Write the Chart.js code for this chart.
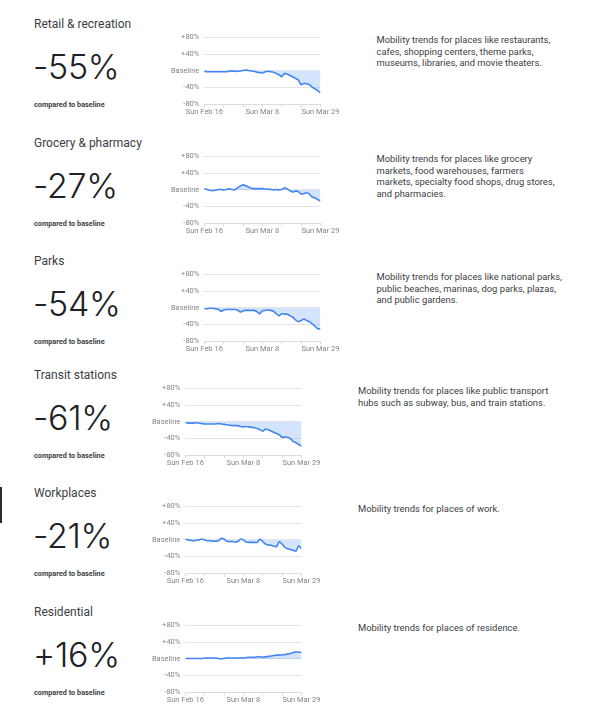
<!DOCTYPE html>
<html>
<head>
<meta charset="utf-8">
<script src="https://cdn.jsdelivr.net/npm/chart.js@4"></script>
<style>
  html, body { margin:0; padding:0; background:#fff; }
  body { width:597px; height:728px; position:relative; overflow:hidden; font-family:Roboto, "Noto Sans", sans-serif; }
  .title { position:absolute; left:34px; font-size:12px; line-height:14px; color:#3c4043; white-space:nowrap; }
  .num { position:absolute; left:33px; font-family:Inter, Roboto, sans-serif; font-size:34px; line-height:36px; font-weight:300; color:#202124; white-space:nowrap; letter-spacing:-0.3px; }
  .cmp { position:absolute; left:34px; font-size:7.3px; line-height:9px; font-weight:700; color:#3c4043; white-space:nowrap; }
  .desc { position:absolute; font-size:9.4px; line-height:11.4px; color:#3c4043; white-space:nowrap; }
  canvas { position:absolute; }
  .bar { position:absolute; left:0; top:487px; width:2px; height:36px; background:#22302f; }
</style>
</head>
<body>
<div class="bar"></div>
<script>
// ---- data ----
const categories = ["Retail & recreation", "Grocery & pharmacy", "Parks", "Transit stations", "Workplaces", "Residential"];
const headlineValues = ["-55%", "-27%", "-54%", "-61%", "-21%", "+16%"];
const descriptions = [
  "Mobility trends for places like restaurants,<br>cafes, shopping centers, theme parks,<br>museums, libraries, and movie theaters.",
  "Mobility trends for places like grocery<br>markets, food warehouses, farmers<br>markets, specialty food shops, drug stores,<br>and pharmacies.",
  "Mobility trends for places like national parks,<br>public beaches, marinas, dog parks, plazas,<br>and public gardens.",
  "Mobility trends for places like public transport<br>hubs such as subway, bus, and train stations.",
  "Mobility trends for places of work.",
  "Mobility trends for places of residence."
];
const xTickLabels = ["Sun Feb 16", "", "", "Sun Mar 8", "", "", "Sun Mar 29"];
const yTickValues = [80, 40, 0, -40, -80];
const yTickLabels = ["+80%", "+40%", "Baseline", "-40%", "-80%"];

const retail = [-1,-2,-2,-2,-2,-2,-2,-2,-2,-1,0,-1,-1,0,1,2,1,0,-1,-3,-4,-5,-2,-1,-2,-3,-6,-9,-14,-6,-8,-11,-14,-18,-22,-33,-30,-31,-33,-39,-43,-47,-53];
const grocery = [3,1,-1,-2,-1,1,1,0,1,3,1,0,5,9,12,10,7,4,3,3,3,3,2,2,1,0,1,0,1,5,2,-2,-5,-3,-4,-10,-9,-7,-10,-17,-19,-23,-27];
const parks = [-2,-2,-1,-1,-2,-3,-8,-5,-4,-4,-4,-4,-5,-10,-7,-6,-6,-6,-6,-9,-14,-7,-6,-5,-6,-8,-14,-19,-14,-15,-15,-19,-22,-29,-33,-30,-27,-30,-33,-38,-44,-50,-50];
const transit = [-2,-3,-3,-3,-2,-3,-4,-5,-5,-5,-5,-5,-4,-5,-6,-7,-8,-9,-9,-9,-11,-12,-11,-12,-13,-14,-16,-19,-22,-17,-19,-22,-25,-28,-31,-37,-36,-37,-40,-47,-50,-54,-58];
const workplaces = [2,0,-1,-2,-1,0,2,0,-2,-2,-3,-3,-2,4,2,-3,-4,-4,-5,-4,2,0,-5,-6,-6,-6,-6,2,-4,-10,-12,-13,-15,-16,-4,-10,-18,-21,-23,-25,-27,-14,-21];
const residential = [1,1,1,1,1,1,1,2,2,2,2,2,1,0,1,2,2,2,2,2,2,2,3,4,4,4,5,5,4,5,6,7,8,9,9,10,10,12,13,15,17,16,16];
const seriesList = [retail, grocery, parks, transit, workplaces, residential];

// ---- layout ----
const panelOffsets = [0, 119, 237, 351, 469, 588];

panelOffsets.forEach((off, i) => {
  const shifted = i >= 3;
  const t = document.createElement('div');
  t.className = 'title'; t.style.top = (24 + off - 7) + 'px'; t.textContent = categories[i];
  document.body.appendChild(t);
  const n = document.createElement('div');
  n.className = 'num'; n.style.top = (68 + off - 19) + 'px'; n.textContent = headlineValues[i];
  document.body.appendChild(n);
  const c = document.createElement('div');
  c.className = 'cmp'; c.style.top = (104 + off - 4.5) + 'px'; c.textContent = 'compared to baseline';
  document.body.appendChild(c);
  const d = document.createElement('div');
  d.className = 'desc'; d.style.top = (40 + off - 5.7) + 'px';
  d.style.left = (shifted ? 358 : 376.5) + 'px';
  d.innerHTML = descriptions[i];
  document.body.appendChild(d);

  const cv = document.createElement('canvas');
  cv.width = 180; cv.height = 90;
  cv.style.left = (shifted ? 141.4 : 160) + 'px';
  cv.style.top = (35 + off - 7) + 'px';
  document.body.appendChild(cv);

  const vals = seriesList[i];
  new Chart(cv.getContext('2d'), {
    type: 'line',
    data: {
      datasets: [{
        data: vals.map((v, k) => ({x: k, y: v})),
        borderColor: '#4285f4',
        borderWidth: 1.6,
        backgroundColor: 'rgba(66,133,244,0.22)',
        fill: 'origin',
        pointRadius: 0,
        tension: 0.15
      }]
    },
    options: {
      responsive: false,
      animation: false,
      devicePixelRatio: 1,
      layout: { padding: { top: 7, right: 19.3, left: 0, bottom: 0 } },
      plugins: { legend: { display: false }, tooltip: { enabled: false } },
      scales: {
        x: {
          type: 'linear', min: 0, max: vals.length - 1,
          border: { display: true, color: '#dadce0' },
          grid: { drawOnChartArea: false, drawTicks: true, tickLength: 3, color: '#dadce0' },
          ticks: { stepSize: 7, autoSkip: false, maxRotation: 0, padding: 0.5,
                   font: { size: 7.5, family: 'Roboto' }, color: '#80868b',
                   callback: (v, idx) => xTickLabels[idx] },
          afterFit: s => { s.height = 13.7; }
        },
        y: {
          min: -80, max: 80,
          border: { display: false },
          grid: { color: '#e3e5e8', drawTicks: false },
          ticks: { stepSize: 40, padding: 5, font: { size: 7.5, family: 'Roboto' }, color: '#80868b',
                   callback: v => yTickLabels[yTickValues.indexOf(v)] },
          afterFit: s => { s.width = 44.3; }
        }
      }
    }
  });
});
</script>
</body>
</html>
